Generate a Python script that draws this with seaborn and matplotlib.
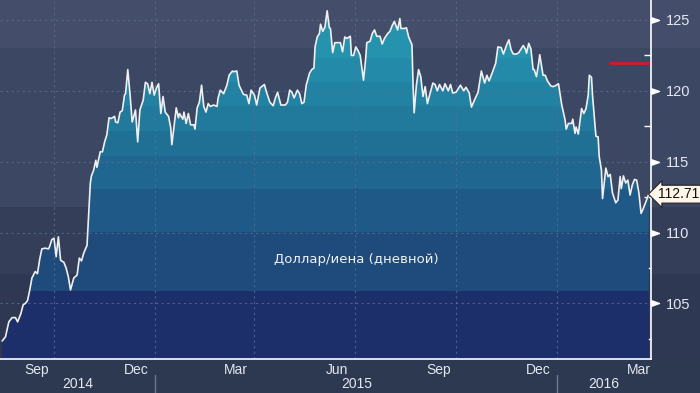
import numpy as np
import pandas as pd
import matplotlib
matplotlib.use('Agg')
import matplotlib.pyplot as plt
import matplotlib.dates as mdates
import matplotlib.transforms as mtransforms
from matplotlib.path import Path
from matplotlib.ticker import NullFormatter
import seaborn as sns

# USD/JPY daily (days counted from start_date)
start_date = '2014-08-13'
day_offsets = [
    2, 5, 8, 11, 14, 16, 19, 21, 23, 25, 27, 29, 32, 34, 36, 38, 41, 44, 45, 47,
    49, 51, 53, 55, 58, 60, 62, 64, 67, 70, 72, 74, 76, 79, 81, 82, 83, 85, 87, 88,
    91, 93, 95, 97, 99, 101, 104, 105, 107, 109, 111, 113, 114, 116, 118, 120, 123, 125, 127, 130,
    132, 134, 136, 138, 140, 142, 144, 146, 148, 150, 153, 155, 156, 158, 160, 162, 163, 166, 167, 169,
    171, 173, 176, 177, 179, 181, 183, 185, 187, 189, 191, 194, 197, 198, 200, 203, 206, 208, 211,
    212, 215, 217, 221, 224, 226, 228, 231, 233, 236, 240, 242, 245, 248, 250, 252, 255, 259, 261, 263,
    265, 267, 270, 272, 274, 276, 278, 281, 283, 285, 286, 288, 290, 291, 293, 295, 297, 299, 300, 302,
    304, 307, 309, 311, 313, 315, 318, 319, 321, 323, 325, 327, 330, 332, 333, 336, 338, 340, 342, 345,
    347, 349, 352, 354, 356, 358, 361, 363, 364, 367, 369, 371, 374, 375, 376, 378, 380, 382, 384, 386,
    388, 390, 393, 395, 397, 399, 402, 404, 407, 409, 411, 414, 418, 421,
    423, 426, 428, 431, 434, 437, 440, 442, 444, 447, 450, 452, 455, 457, 460, 462, 464, 466, 469, 471,
    473, 475, 477, 478, 480, 482, 484, 485, 487, 489, 490, 493, 495, 497, 500, 502, 504, 507, 508, 510,
    513, 514, 516, 519, 520, 522, 523, 525, 528, 530, 532, 534, 535, 537, 538, 541, 543, 544, 546, 547,
    550, 552, 554, 556, 559, 561, 563, 564, 566, 568, 570, 572, 574, 576, 578, 580, 582, 584, 587, 589,
]
usd_jpy = [
    102.35, 102.65, 103.7, 104.0, 104.0, 103.7, 104.3, 104.9, 105.0, 105.2, 105.95, 106.8, 107.25, 107.1, 108.1, 108.85, 108.9, 108.85, 109.0, 109.5,
    109.6, 108.3, 109.7, 108.05, 107.9, 107.5, 106.9, 105.95, 106.8, 107.0, 108.2, 108.0, 108.55, 109.1, 112.1, 113.5, 114.0, 114.4, 115.1, 114.6,
    115.7, 115.7, 116.4, 116.9, 118.1, 118.05, 118.2, 117.8, 117.75, 118.5, 118.6, 119.7, 119.8, 121.5, 119.8, 117.8, 118.65, 116.4, 118.65, 119.35,
    120.6, 120.5, 119.8, 120.6, 119.7, 120.2, 120.5, 118.4, 119.6, 118.5, 118.2, 117.4, 116.2, 117.5, 118.8, 118.1, 118.4, 118.0, 118.5, 117.7,
    118.4, 117.6, 117.6, 117.3, 118.8, 119.2, 120.4, 118.9, 118.5, 119.1, 118.9, 119.0, 118.9, 119.5, 120.05, 119.8, 120.4, 121.1, 121.4,
    121.35, 121.4, 120.4, 119.75, 119.7, 119.1, 120.05, 119.7, 119.0, 120.2, 120.45, 119.9, 119.2, 118.95, 119.5, 119.9, 119.0, 119.0, 119.2, 120.05,
    119.9, 119.5, 120.05, 119.8, 119.1, 119.2, 120.4, 121.25, 121.5, 121.6, 123.1, 123.8, 124.05, 124.7, 124.2, 124.5, 125.65, 124.45, 124.4, 122.7,
    123.4, 123.4, 123.4, 122.75, 123.8, 123.7, 123.85, 122.5, 122.5, 123.1, 122.85, 122.5, 120.75, 122.3, 123.4, 123.5, 124.05, 124.3, 123.85, 123.85,
    123.3, 123.7, 124.05, 124.2, 124.6, 124.9, 124.3, 125.1, 124.4, 124.4, 124.45, 123.8, 123.25, 120.4, 118.45, 120.4, 121.5, 121.0, 119.6, 120.3,
    119.1, 119.7, 120.55, 120.45, 120.0, 120.45, 120.0, 120.5, 120.0, 120.45, 119.85, 119.9, 120.4, 120.0,
    120.25, 119.85, 118.85, 119.4, 119.9, 121.4, 120.55, 121.1, 120.7, 121.3, 121.95, 123.1, 123.05, 122.6, 123.25, 123.6, 122.9, 122.6, 122.6, 122.7,
    122.95, 123.2, 122.95, 122.65, 123.35, 122.95, 121.5, 121.5, 121.0, 121.95, 122.55, 121.1, 121.1, 120.7, 120.35, 120.3, 120.35, 120.5, 120.0, 119.0,
    117.95, 117.3, 117.7, 117.7, 118.0, 117.0, 117.45, 116.95, 118.75, 118.4, 118.75, 119.7, 121.1, 120.95, 119.6, 116.8, 116.75, 115.35, 114.4, 112.4,
    114.55, 113.95, 114.1, 112.8, 112.1, 112.3, 113.95, 113.1, 114.0, 113.5, 113.7, 112.65, 113.35, 113.75, 113.7, 112.8, 111.35, 111.7, 112.3, 112.71,
]
last_value = 112.71
red_level = 122.0
red_line_from = '2016-02-17'

y_ticks = [105, 110, 115, 120, 125]
month_labels = ['Sep', 'Dec', 'Mar', 'Jun', 'Sep', 'Dec', 'Mar']
month_label_dates = ['2014-09-15', '2014-12-15', '2015-03-15', '2015-06-15',
                     '2015-09-15', '2015-12-15', '2016-03-15']
year_labels = ['2014', '2015', '2016']
year_starts = ['2015-01-01', '2016-01-01']
chart_label = 'Доллар/иена (дневной)'

df = pd.DataFrame({
    'date': pd.Timestamp(start_date) + pd.to_timedelta(day_offsets, unit='D'),
    'rate': usd_jpy,
})

sns.set_style('dark')
plt.rcParams['font.family'] = ['Liberation Sans', 'DejaVu Sans']

fig = plt.figure(figsize=(7, 3.93), dpi=100, facecolor='#2c3950')
ax = fig.add_axes([0, 1 - 359 / 393, 651 / 700, 359 / 393])
ax.patch.set_visible(False)

y_lo, y_hi = 101.08, 126.41
x_lo = pd.Timestamp(start_date)
x_hi = x_lo + pd.Timedelta(days=591)
ax.set_xlim(x_lo, x_hi)
ax.set_ylim(y_lo, y_hi)

# background stripes run across the whole figure width
bg_edges = [y_lo, 107.07, 111.8, 123.02, y_hi]
bg_colors = ['#2e3852', '#343e59', '#3c4763', '#444e6a']
bg_trans = mtransforms.blended_transform_factory(fig.transFigure, ax.transData)
for lo, hi, c in zip(bg_edges[:-1], bg_edges[1:], bg_colors):
    ax.add_patch(plt.Rectangle((0, lo), 1, hi - lo, transform=bg_trans,
                               facecolor=c, lw=0, zorder=0, clip_on=False))

# stepped gradient inside the area
area = ax.fill_between(df['date'], y_lo, df['rate'], color='none', lw=0)
area_path = area.get_paths()[0]
fill_edges = [y_lo, 105.9, 110.04, 113.07, 115.4, 117.2, 118.9, 120.6, 122.3, y_hi]
fill_colors = ['#1c2f6b', '#1e4a7c', '#1e5987', '#1f6690', '#207096',
               '#21799c', '#2282a3', '#238ba9', '#2593ae']
for lo, hi, c in zip(fill_edges[:-1], fill_edges[1:], fill_colors):
    band = ax.axhspan(lo, hi, color=c, lw=0, zorder=1)
    band.set_clip_path(area_path, ax.transData)

# dashed grid
grid_kw = dict(color='#55718f', lw=0.8, ls=(0, (2, 3)), alpha=0.8, zorder=2)
for v in y_ticks:
    ax.axhline(v, **grid_kw)
for d in pd.date_range('2014-10-01', '2016-01-01', freq='QS'):
    ax.axvline(d, **grid_kw)

sns.lineplot(data=df, x='date', y='rate', ax=ax, color='#f0f0f0', lw=1.2, zorder=4)
ax.set_xlabel('')
ax.set_ylabel('')
ax.grid(False)

ax.hlines(red_level, pd.Timestamp(red_line_from), x_hi, color='#e8141b', lw=1.8, zorder=5)

# axes & ticks
for s in ['top', 'left']:
    ax.spines[s].set_visible(False)
for s in ['right', 'bottom']:
    ax.spines[s].set_visible(True)
    ax.spines[s].set_color('white')
    ax.spines[s].set_linewidth(1.2)
    ax.spines[s].set_zorder(6)

ax.yaxis.tick_right()
ax.set_yticks(y_ticks)
ax.set_yticks([v - 2.5 for v in y_ticks], minor=True)
ax.tick_params(axis='y', which='major', length=0, pad=11, labelsize=10.5, labelcolor='#e3e8f0')
ax.tick_params(axis='y', which='minor', length=5, width=1, direction='in', color='white')

ax.xaxis.set_major_locator(mdates.MonthLocator())
ax.xaxis.set_major_formatter(NullFormatter())
ax.set_xticks(pd.to_datetime(month_label_dates), minor=True)
ax.set_xticklabels(month_labels, minor=True)
ax.tick_params(axis='x', which='major', length=3, width=1, color='white', direction='out')
ax.tick_params(axis='x', which='minor', length=0, pad=3, labelsize=10, labelcolor='#e3e8f0')

# triangles on the value axis
tri = Path([(0, -0.35), (0, 0.35), (1, 0), (0, -0.35)],
           [Path.MOVETO, Path.LINETO, Path.LINETO, Path.CLOSEPOLY])
axis_trans = mtransforms.blended_transform_factory(ax.transAxes, ax.transData)
ax.plot([1] * len(y_ticks), y_ticks, ls='none', marker=tri, ms=11.5, color='white',
        transform=axis_trans, clip_on=False, zorder=6)

# last price tag
ax.text(1, last_value, f'{last_value:.2f}',
        transform=axis_trans + mtransforms.ScaledTranslation(5 / 72, 0, fig.dpi_scale_trans),
        ha='left', va='center', fontsize=10, color='#111111', zorder=7,
        bbox=dict(boxstyle='larrow,pad=0.14', fc='#fff6e8', ec='#222222', lw=0.8))

ax.text(0.548, 0.276, chart_label, transform=ax.transAxes, ha='center', va='center',
        color='#eef2f7', fontsize=9.5, family=['DejaVu Sans'], zorder=7)

# year row
year_trans = mtransforms.blended_transform_factory(ax.transData, fig.transFigure)
bounds = [x_lo] + list(pd.to_datetime(year_starts)) + [x_hi]
for lab, a, b in zip(year_labels, bounds[:-1], bounds[1:]):
    ax.text(a + (b - a) / 2, 0.022, lab, transform=year_trans, ha='center', va='center',
            fontsize=10, color='#e3e8f0')
for d in pd.to_datetime(year_starts):
    ax.plot([d, d], [0, 0.046], transform=year_trans, color='#6d7b90', lw=1, clip_on=False)

fig.savefig('out.png', dpi=100, facecolor=fig.get_facecolor())
